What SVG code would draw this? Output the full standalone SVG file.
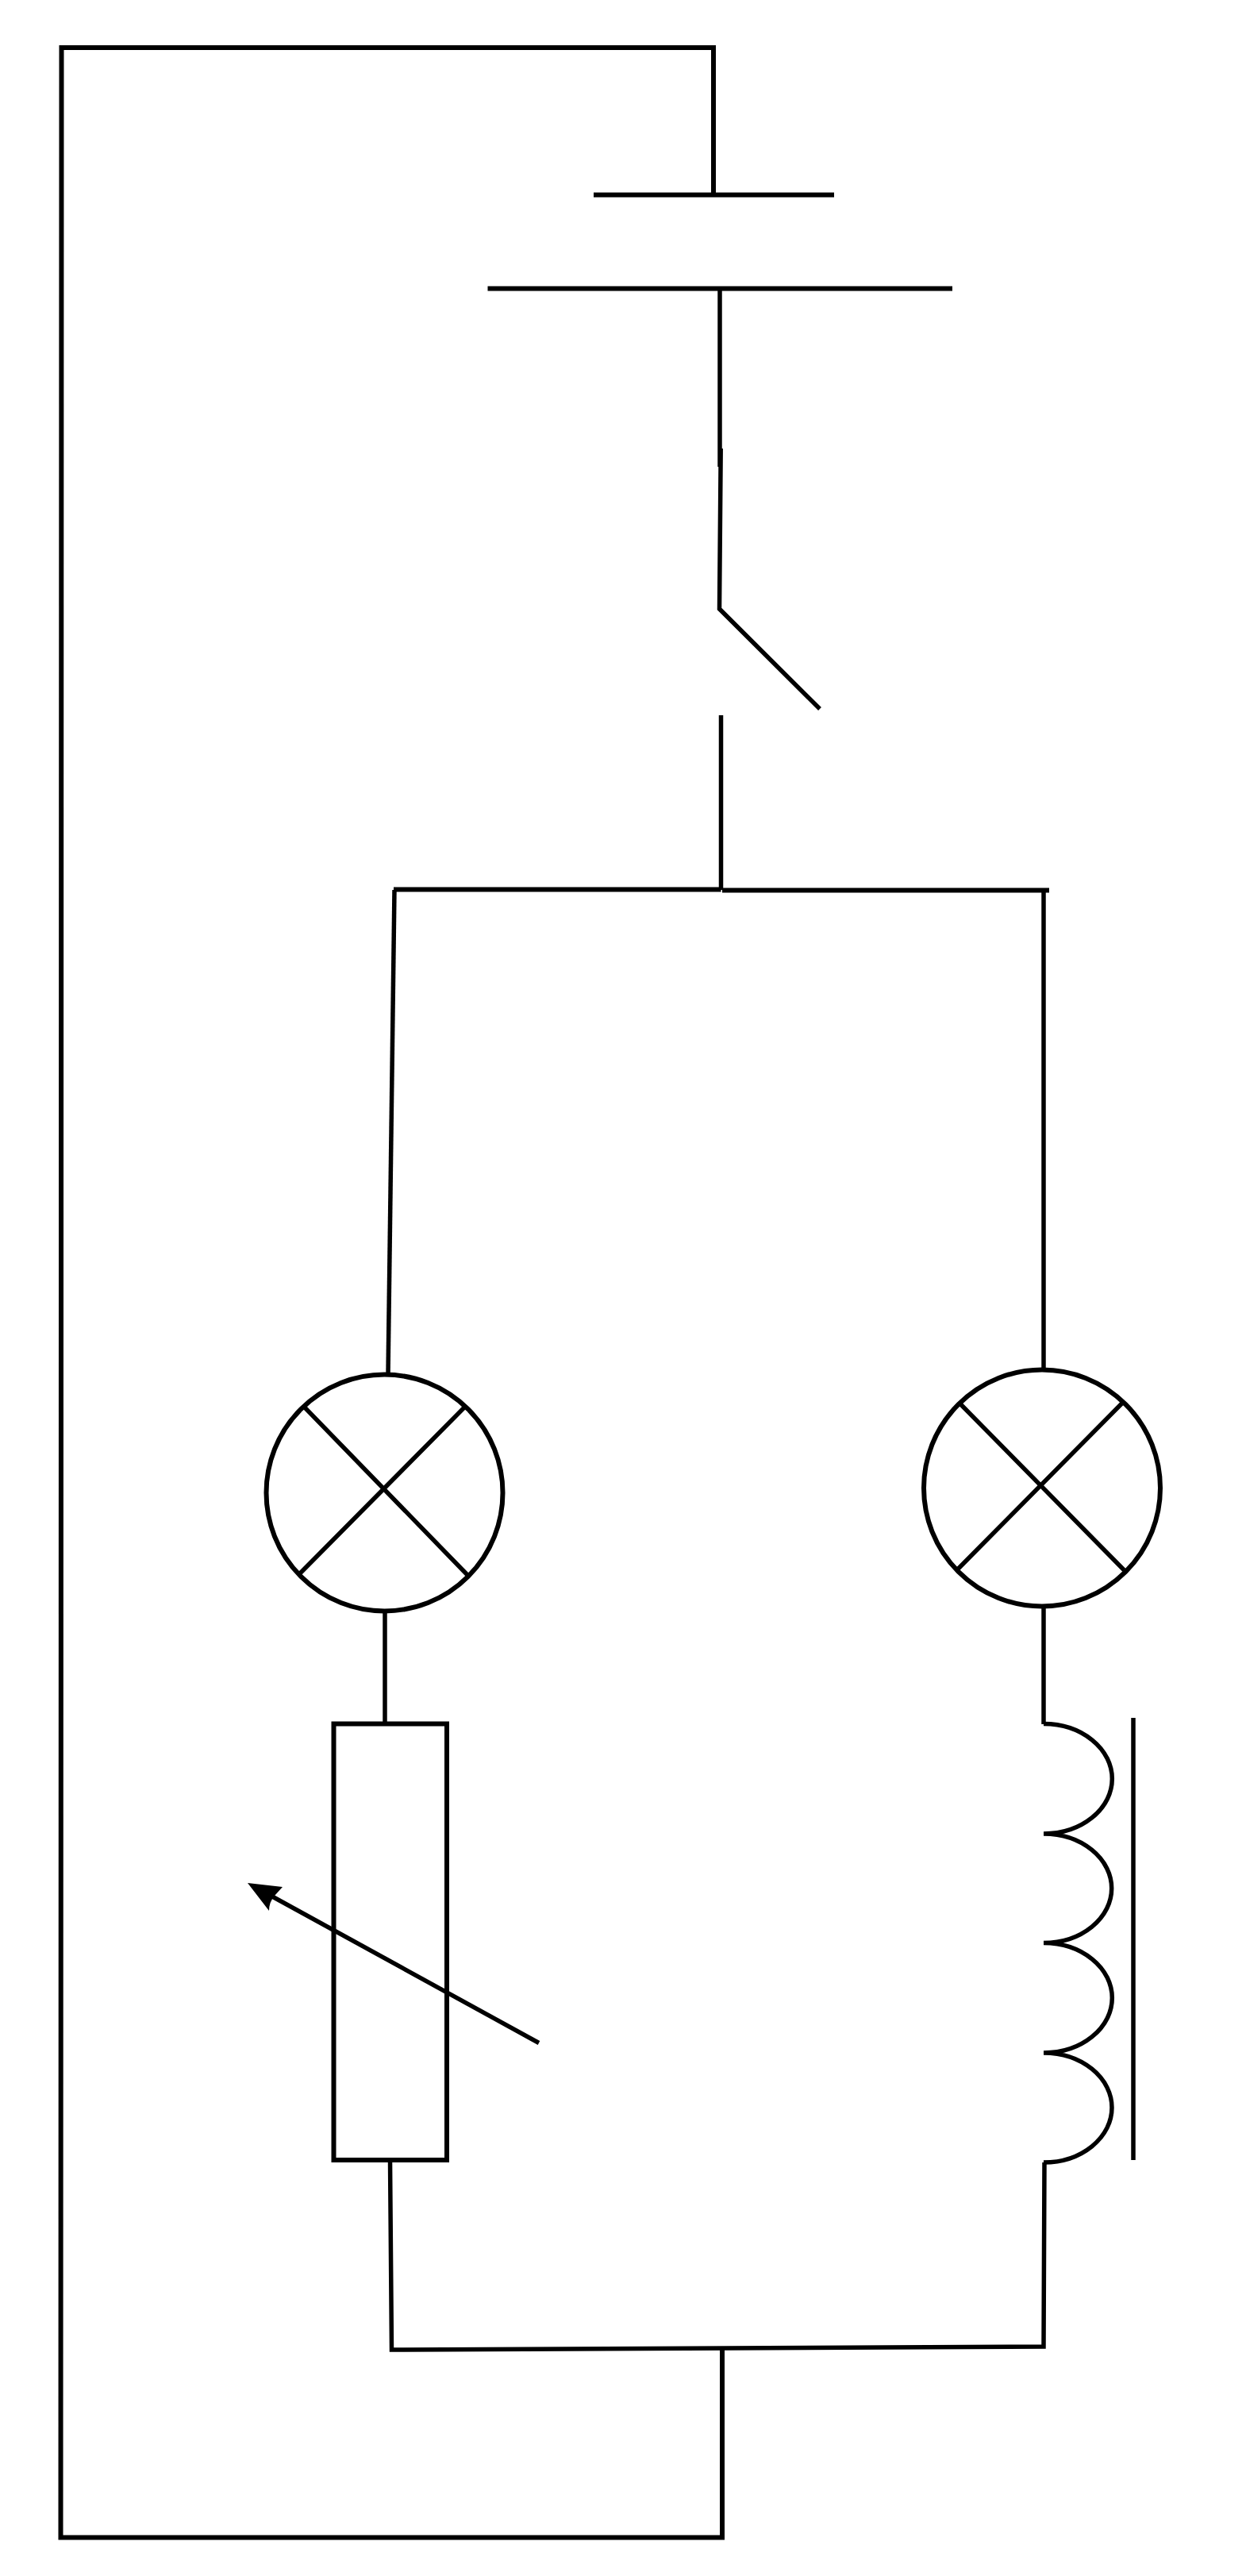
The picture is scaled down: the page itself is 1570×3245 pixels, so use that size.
<svg xmlns="http://www.w3.org/2000/svg" width="1570" height="3245" viewBox="0 0 1570 3245">
<style>
.w{fill:none;stroke:#000;stroke-width:6}
.t{fill:none;stroke:#000;stroke-width:5.500}
</style>
<rect width="1570" height="3245" fill="#fff"/>
<g id="connectors">
<path class="w" d="M899 245V60H77.500L76.500 3196.500H910V2959"/>
<path class="t" d="M907 363V588"/>
<path class="t" d="M908.500 901V1121"/>
<path class="w" d="M908.500 1120.500H496"/>
<path class="w" d="M910 1121.500H1322"/>
<path class="t" d="M497 1121L489 1731"/>
<path class="t" d="M1315 1122V1724"/>
<path class="t" d="M485 2030V2172"/>
<path class="t" d="M1315 2026V2172"/>
<path class="t" d="M491.500 2721L493.500 2960L1315 2956L1316 2724"/>
</g>
<g id="battery">
<path class="w" d="M748 245.500H1051"/>
<path class="w" d="M614.500 363.500H1200"/>
</g>
<g id="switch">
<path class="t" d="M908.200 565L906.500 767L1033 893"/>
</g>
<g id="lamp-left">
<circle class="w" cx="484.500" cy="1880.500" r="149"/>
<path class="t" d="M383 1772L589 1984M585 1773L378 1982"/>
</g>
<g id="lamp-right">
<circle class="w" cx="1313" cy="1874.500" r="149"/>
<path class="t" d="M1209.500 1768L1416.500 1978M1413.500 1768L1206.500 1977"/>
</g>
<g id="rheostat">
<rect class="w" x="420.500" y="2171.500" width="142.500" height="549.500"/>
<path class="t" d="M679 2573.500L343 2389"/>
<path d="M312 2372L356 2377L346 2388Q339 2396 339 2407Z" fill="#000"/>
</g>
<g id="inductor">
<path class="t" d="M1315 2171.500A43 34.500 0 0 1 1315 2310A43 34.500 0 0 1 1315 2447.500A43 34.500 0 0 1 1315 2586A43 34.500 0 0 1 1315 2724"/>
<path class="t" d="M1428 2164V2721"/>
</g>
</svg>
